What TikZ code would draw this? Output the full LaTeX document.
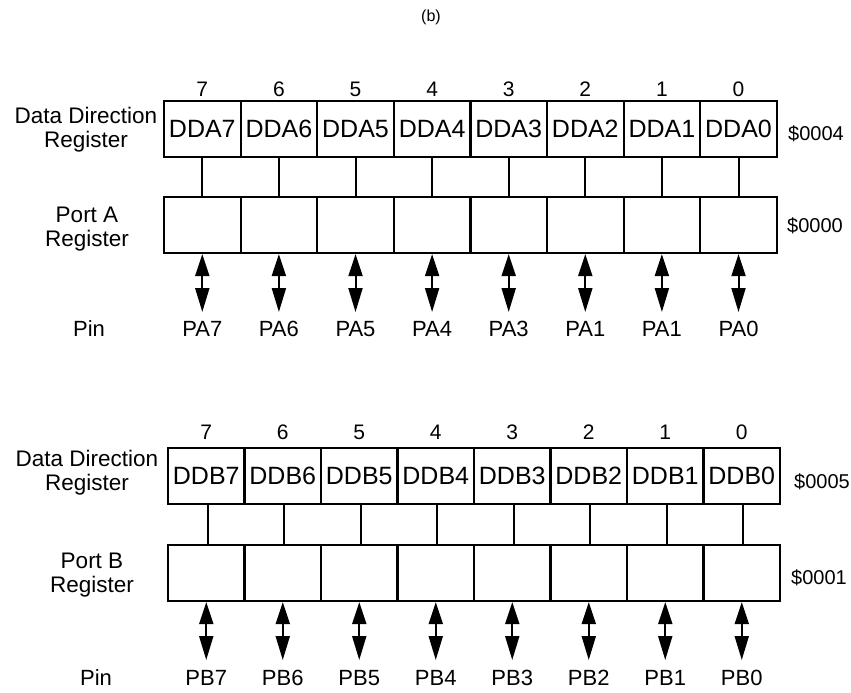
\documentclass[tikz,border=0pt]{standalone}
\usepackage{fontspec}
\setmainfont{Liberation Sans}
\usetikzlibrary{arrows.meta}
\begin{document}
\begin{tikzpicture}[x=1pt,y=-1pt,
  cell/.style={draw, line width=2.2pt, minimum width=76.6pt, minimum height=56pt, inner sep=0pt, font=\fontsize{25}{30}\selectfont},
  lbl/.style={align=center, font=\fontsize{22.5}{24}\selectfont, inner sep=0pt},
  bitnum/.style={font=\fontsize{21}{24}\selectfont, inner sep=0pt},
  pinlbl/.style={font=\fontsize{22}{24}\selectfont, inner sep=0pt},
  addr/.style={font=\fontsize{20}{24}\selectfont, inner sep=0pt},
  link/.style={line width=2pt},
  bidir/.style={line width=2pt, {Triangle[length=22pt,width=14pt]}-{Triangle[length=24pt,width=14pt]}}
]
\useasboundingbox (0,0) rectangle (851,693);

\node[font=\fontsize{16}{18}\selectfont, inner sep=0pt] (title) at (431,17) {(b)};

% ---------- Port A ----------
\foreach \i/\t in {0/PA7,1/PA6,2/PA5,3/PA4,4/PA3,5/PA1,6/PA1,7/PA0} {
  \pgfmathtruncatemacro\b{7-\i}
  \pgfmathsetmacro\xx{164+76.6*(\i+0.5)}
  \node[cell] (dda\b) at (\xx,129) {DDA\b};
  \node[cell] (pra\b) at (\xx,225) {};
  \node[bitnum] (bita\b) at (\xx,89) {\b};
  \draw[link] (dda\b.south) -- (pra\b.north);
  \coordinate (enda\b) at (\xx,312);
  \node[pinlbl] (pina\b) at (\xx,329) {\t};
  \draw[bidir] (pra\b.south) -- (enda\b);
}
\node[lbl] (ddrA) at (86,130) {Data Direction\\Register};
\node[lbl] (portA) at (87,229) {Port A\\Register};
\node[pinlbl] (pinA) at (89,329) {Pin};
\node[addr] (adrA1) at (816,134) {\$0004};
\node[addr] (adrA2) at (815,226) {\$0000};

% ---------- Port B ----------
\foreach \i in {0,...,7} {
  \pgfmathtruncatemacro\b{7-\i}
  \pgfmathsetmacro\xx{168+76.5*(\i+0.5)}
  \node[cell, minimum width=76.5pt] (ddb\b) at (\xx,476) {DDB\b};
  \node[cell, minimum width=76.5pt] (prb\b) at (\xx,573) {};
  \node[bitnum] (bitb\b) at (\xx,432) {\b};
  \draw[link] ([xshift=1.5pt]ddb\b.south) -- ([xshift=1.5pt]prb\b.north);
  \coordinate (endb\b) at (\xx,660);
  \node[pinlbl] (pinb\b) at (\xx,678) {PB\b};
  \draw[bidir] (prb\b.south) -- (endb\b);
}
\node[lbl] (ddrB) at (87,473) {Data Direction\\Register};
\node[lbl] (portB) at (92,575) {Port B\\Register};
\node[pinlbl] (pinB) at (96,678) {Pin};
\node[addr] (adrB1) at (822,482) {\$0005};
\node[addr] (adrB2) at (819,578) {\$0001};
\end{tikzpicture}
\end{document}
